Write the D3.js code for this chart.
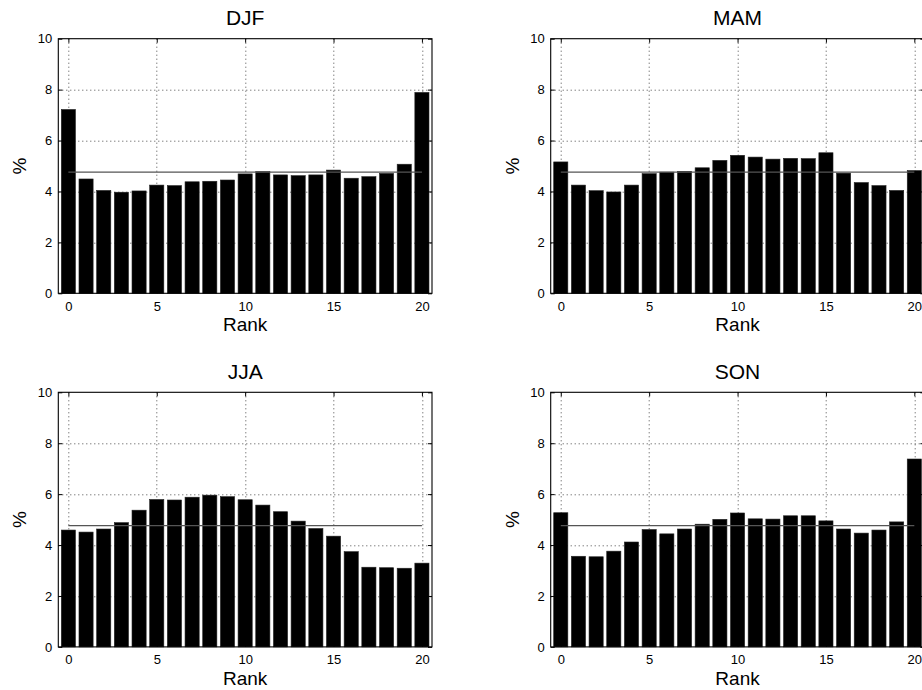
<!DOCTYPE html>
<html>
<head>
<meta charset="utf-8">
<script src="https://cdn.jsdelivr.net/npm/d3@7"></script>
<style>
  html, body { margin: 0; padding: 0; background: #fff; }
  svg { display: block; font-family: "Liberation Sans", Arial, Helvetica, sans-serif; }
</style>
</head>
<body>
<svg id="chart" width="922" height="690"></svg>
<script>
// Rank histograms, one per season (percent of cases in each rank 0..20)
const ranks = d3.range(0, 21);
const seasons = ["DJF", "MAM", "JJA", "SON"];

const djf = [7.22, 4.49, 4.04, 3.97, 4.02, 4.25, 4.23, 4.38, 4.40, 4.45, 4.69,
             4.78, 4.65, 4.62, 4.65, 4.84, 4.52, 4.58, 4.71, 5.07, 7.89];
const mam = [5.16, 4.25, 4.03, 3.98, 4.25, 4.70, 4.76, 4.79, 4.93, 5.22, 5.42,
             5.35, 5.27, 5.30, 5.29, 5.52, 4.72, 4.35, 4.23, 4.04, 4.82];
const jja = [4.59, 4.51, 4.63, 4.88, 5.37, 5.79, 5.77, 5.88, 5.96, 5.90, 5.78,
             5.57, 5.31, 4.94, 4.65, 4.35, 3.74, 3.13, 3.11, 3.09, 3.29];
const son = [5.27, 3.56, 3.54, 3.76, 4.12, 4.61, 4.44, 4.63, 4.82, 5.01, 5.26,
             5.03, 5.02, 5.15, 5.15, 4.95, 4.63, 4.47, 4.59, 4.91, 7.38];
const seriesValues = [djf, mam, jja, son];

// Uniform expectation: 100 / 21 ranks
const expected = 100 / 21;

const xTicks = [0, 5, 10, 15, 20];
const yTicks = [0, 2, 4, 6, 8, 10];
const xLabel = "Rank";
const yLabel = "%";

const svg = d3.select("#chart");

const panelW = 373.7, panelH = 254.6;
const origins = [[58.3, 38.7], [550.7, 38.7], [58.3, 392.3], [550.7, 392.3]];

const x = d3.scaleLinear().domain([-0.57, 20.57]).range([0, panelW]);
const y = d3.scaleLinear().domain([0, 10]).range([panelH, 0]);
const barW = x(0.8) - x(0);

seasons.forEach((name, i) => {
  const [ox, oy] = origins[i];
  const g = svg.append("g").attr("transform", `translate(${ox},${oy})`);
  const vals = seriesValues[i];

  // dotted grid
  const grid = g.append("g")
    .attr("stroke", "#000")
    .attr("stroke-width", 1)
    .attr("stroke-dasharray", "1,3")
    .attr("opacity", 0.7);
  grid.selectAll("line.vx").data(xTicks).enter().append("line")
    .attr("x1", d => Math.round(x(d)) + 0.5).attr("x2", d => Math.round(x(d)) + 0.5)
    .attr("y1", 0).attr("y2", panelH);
  grid.selectAll("line.hy").data(yTicks.filter(d => d > 0 && d < 10)).enter().append("line")
    .attr("x1", 0).attr("x2", panelW)
    .attr("y1", d => Math.round(y(d)) + 0.5).attr("y2", d => Math.round(y(d)) + 0.5);

  // bars
  g.selectAll("rect.bar").data(ranks).enter().append("rect")
    .attr("x", d => x(d) - barW / 2)
    .attr("width", barW)
    .attr("y", d => y(vals[d]))
    .attr("height", d => y(0) - y(vals[d]))
    .attr("fill", "#000")
    .attr("stroke", "#222")
    .attr("stroke-width", 0.6);

  // expected-frequency line
  g.append("line")
    .attr("x1", x(0)).attr("x2", x(20))
    .attr("y1", y(expected)).attr("y2", y(expected))
    .attr("stroke", "#555").attr("stroke-width", 1.3);

  // axes: ticks inward on all four sides
  const tickLen = 4;
  const axB = d3.axisBottom(x).tickValues(xTicks).tickSize(-tickLen).tickPadding(8).tickFormat(d3.format("d"));
  const axT = d3.axisTop(x).tickValues(xTicks).tickSize(-tickLen).tickFormat("");
  const axL = d3.axisLeft(y).tickValues(yTicks).tickSize(-tickLen).tickPadding(6).tickFormat(d3.format("d"));
  const axR = d3.axisRight(y).tickValues(yTicks).tickSize(-tickLen).tickFormat("");

  const styleAxis = sel => {
    sel.select(".domain").remove();
    sel.selectAll(".tick line").attr("stroke", "#000");
    sel.selectAll(".tick text").attr("font-size", 13).attr("fill", "#000")
      .attr("font-family", "Liberation Sans, Arial, sans-serif");
  };
  g.append("g").attr("transform", `translate(0,${panelH})`).call(axB).call(styleAxis);
  g.append("g").call(axT).call(styleAxis);
  g.append("g").call(axL).call(styleAxis);
  g.append("g").attr("transform", `translate(${panelW},0)`).call(axR).call(styleAxis);

  // frame
  g.append("rect")
    .attr("x", 0).attr("y", 0).attr("width", panelW).attr("height", panelH)
    .attr("fill", "none").attr("stroke", "#000").attr("stroke-width", 1.1);

  // title and axis labels
  g.append("text")
    .attr("x", panelW / 2).attr("y", -13.5)
    .attr("text-anchor", "middle").attr("font-size", 21).attr("fill", "#000")
    .text(name);
  g.append("text")
    .attr("x", panelW / 2).attr("y", panelH + 38)
    .attr("text-anchor", "middle").attr("font-size", 19).attr("fill", "#000")
    .text(xLabel);
  g.append("text")
    .attr("transform", `translate(-32,${panelH / 2}) rotate(-90)`)
    .attr("text-anchor", "middle").attr("font-size", 19).attr("fill", "#000")
    .text(yLabel);
});
</script>
</body>
</html>
